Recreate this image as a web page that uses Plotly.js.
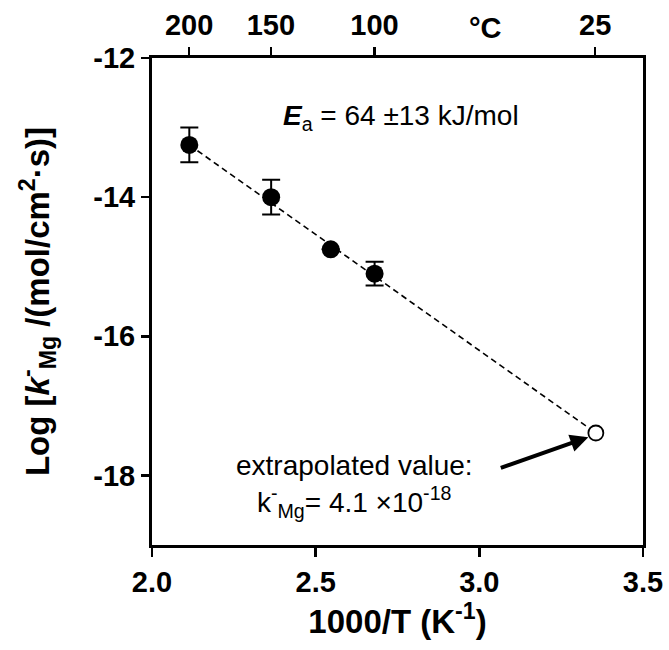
<!DOCTYPE html>
<html>
<head>
<meta charset="utf-8">
<script src="https://cdn.plot.ly/plotly-3.0.1.min.js"></script>
<style>html,body{margin:0;padding:0;background:#fff;}#chart{width:669px;height:650px;}</style>
</head>
<body>
<div id="chart"></div>
<script>
// Measured points: 1000/T (K^-1) vs log k
const invT = [2.114, 2.364, 2.546, 2.680];
const logK = [-13.25, -14.00, -14.75, -15.10];
const logKErr = [0.25, 0.25, 0, 0.17];
// Extrapolated value at 25 °C
const extrapX = [3.356];
const extrapY = [-17.39];
// Fit line endpoints
const fitX = [2.114, 3.356];
const fitY = [-13.25, -17.39];
// Ticks
const xTickVals = [2.0, 2.5, 3.0, 3.5];
const xTickText = ["2.0", "2.5", "3.0", "3.5"];
const yTickVals = [-12, -14, -16, -18];
const yTickText = ["-12", "-14", "-16", "-18"];
const topTickC = [200, 150, 100, 25];
const topTickText = topTickC.map(String);
const topTickVals = topTickC.map(c => 1000 / (c + 273.15));

const FONT = "Liberation Sans, Arial, Helvetica, sans-serif";
const TICK = {family: FONT, size: 29, weight: "bold", color: "#000"};

const traces = [
  {
    x: fitX, y: fitY, mode: "lines", type: "scatter",
    line: {color: "#000", width: 1.6, dash: "6px,4px"},
    hoverinfo: "skip", showlegend: false
  },
  {
    x: invT, y: logK, mode: "markers", type: "scatter",
    marker: {color: "#000", size: 18},
    error_y: {type: "data", array: logKErr, visible: true, color: "#000", thickness: 2, width: 9},
    showlegend: false
  },
  {
    x: extrapX, y: extrapY, mode: "markers", type: "scatter",
    marker: {color: "#fff", size: 15, line: {color: "#000", width: 1.8}},
    showlegend: false
  },
  {
    x: [2.5], y: [-20], xaxis: "x2", mode: "markers", type: "scatter",
    marker: {opacity: 0}, hoverinfo: "skip", showlegend: false
  }
];

const layout = {
  width: 669, height: 650,
  margin: {l: 152, r: 26, t: 58, b: 105},
  paper_bgcolor: "#fff", plot_bgcolor: "#fff",
  font: {family: FONT, color: "#000"},
  showlegend: false,
  xaxis: {
    range: [2.0, 3.5], tickvals: xTickVals, ticktext: xTickText,
    showgrid: false, zeroline: false,
    showline: true, linecolor: "#000", linewidth: 3, mirror: true,
    ticks: "outside", ticklen: 9, tickwidth: 2.5, tickcolor: "#000",
    tickfont: TICK,
    title: {text: "1000/T (K<sup>-1</sup>)", font: {family: FONT, size: 33, weight: "bold", color: "#000"}, standoff: 6}
  },
  xaxis2: {
    overlaying: "x", side: "top", range: [2.0, 3.5],
    tickvals: topTickVals, ticktext: topTickText,
    showgrid: false, zeroline: false, showline: false,
    ticks: "outside", ticklen: 10, tickwidth: 2.5, tickcolor: "#000",
    tickfont: TICK
  },
  yaxis: {
    range: [-19, -12], tickvals: yTickVals, ticktext: yTickText,
    showgrid: false, zeroline: false,
    showline: true, linecolor: "#000", linewidth: 3, mirror: true,
    ticks: "outside", ticklen: 8, tickwidth: 2.5, tickcolor: "#000",
    tickfont: TICK,
    title: {text: "Log [<i>k</i><sup>-</sup><sub>Mg</sub> /(mol/cm<sup>2</sup>·s)]", font: {family: FONT, size: 33, weight: "bold", color: "#000"}, standoff: 34}
  },
  annotations: [
    {
      xref: "x", yref: "y", x: 2.761, y: -12.86, showarrow: false,
      text: "<b><i>E</i></b><sub>a</sub> = 64 ±13 kJ/mol",
      font: {family: FONT, size: 28, color: "#000"}
    },
    {
      xref: "x", yref: "paper", x: 3.02, y: 1.0616, showarrow: false,
      text: "°C", yanchor: "middle",
      font: {family: FONT, size: 29, weight: "bold", color: "#000"}
    },
    {
      xref: "x", yref: "y", x: 2.62, y: -17.86, showarrow: false,
      text: "extrapolated value:",
      font: {family: FONT, size: 28, color: "#000"}
    },
    {
      xref: "x", yref: "y", x: 2.62, y: -18.38, showarrow: false,
      text: "k<sup>-</sup><sub>Mg</sub>= 4.1 ×10<sup>-18</sup>",
      font: {family: FONT, size: 28, color: "#000"}
    },
    {
      xref: "x", yref: "y", axref: "x", ayref: "y",
      x: 3.333, y: -17.45, ax: 3.061, ay: -17.90,
      showarrow: true, arrowhead: 2, arrowsize: 0.9, arrowwidth: 4, arrowcolor: "#000", text: ""
    }
  ]
};

Plotly.newPlot("chart", traces, layout, {displayModeBar: false, staticPlot: true});
</script>
</body>
</html>
